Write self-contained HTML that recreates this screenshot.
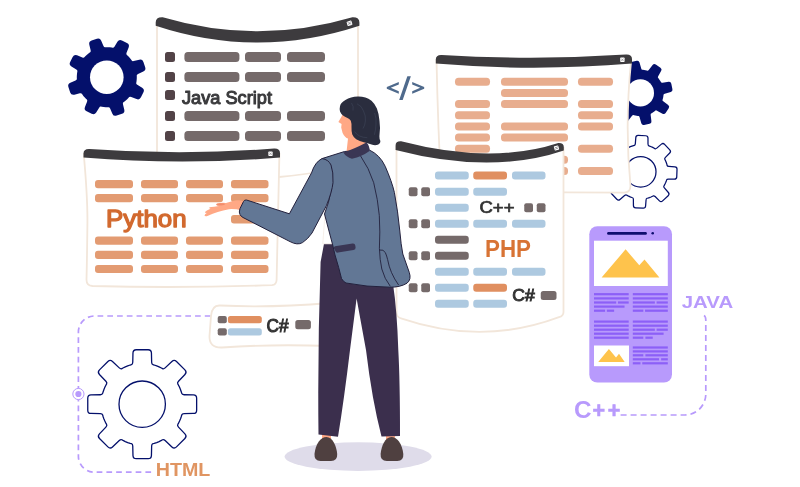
<!DOCTYPE html>
<html><head><meta charset="utf-8"><title>Programming languages</title>
<style>
html,body{margin:0;padding:0;background:#fff;}
body{width:800px;height:487px;overflow:hidden;font-family:"Liberation Sans",sans-serif;}
svg{display:block;will-change:transform}
svg text{font-family:"Liberation Sans",sans-serif;}
</style></head><body>
<svg width="800" height="487" viewBox="0 0 800 487">
<rect width="800" height="487" fill="#fff"/>
<path d="M136.20 83.11 Q136.01 84.05 137.29 84.84 L142.14 87.81 Q144.87 89.48 143.44 92.34 L140.94 97.35 Q139.52 100.22 136.54 99.04 L131.24 96.95 Q129.85 96.40 129.21 97.12 L128.57 97.84 L127.20 99.20 L125.74 100.46 L124.21 101.63 L123.41 102.16 Q122.61 102.70 122.96 104.16 L124.29 109.69 Q125.04 112.80 122.00 113.82 L116.69 115.59 Q113.66 116.61 112.38 113.67 L110.12 108.45 Q109.52 107.08 108.56 107.13 L107.60 107.19 L105.67 107.18 L103.75 107.04 L101.84 106.79 L100.89 106.60 Q99.95 106.41 99.16 107.69 L96.19 112.54 Q94.52 115.27 91.66 113.84 L86.65 111.34 Q83.78 109.92 84.96 106.94 L87.05 101.64 Q87.60 100.25 86.88 99.61 L86.16 98.97 L84.80 97.60 L83.54 96.14 L82.37 94.61 L81.84 93.81 Q81.30 93.01 79.84 93.36 L74.31 94.69 Q71.20 95.44 70.18 92.40 L68.41 87.09 Q67.39 84.06 70.33 82.78 L75.55 80.52 Q76.92 79.92 76.87 78.96 L76.81 78.00 L76.82 76.07 L76.96 74.15 L77.21 72.24 L77.40 71.29 Q77.59 70.35 76.31 69.56 L71.46 66.59 Q68.73 64.92 70.16 62.06 L72.66 57.05 Q74.08 54.18 77.06 55.36 L82.36 57.45 Q83.75 58.00 84.39 57.28 L85.03 56.56 L86.40 55.20 L87.86 53.94 L89.39 52.77 L90.19 52.24 Q90.99 51.70 90.64 50.24 L89.31 44.71 Q88.56 41.60 91.60 40.58 L96.91 38.81 Q99.94 37.79 101.22 40.73 L103.48 45.95 Q104.08 47.32 105.04 47.27 L106.00 47.21 L107.93 47.22 L109.85 47.36 L111.76 47.61 L112.71 47.80 Q113.65 47.99 114.44 46.71 L117.41 41.86 Q119.08 39.13 121.94 40.56 L126.95 43.06 Q129.82 44.48 128.64 47.46 L126.55 52.76 Q126.00 54.15 126.72 54.79 L127.44 55.43 L128.80 56.80 L130.06 58.26 L131.23 59.79 L131.76 60.59 Q132.30 61.39 133.76 61.04 L139.29 59.71 Q142.40 58.96 143.42 62.00 L145.19 67.31 Q146.21 70.34 143.27 71.62 L138.05 73.88 Q136.68 74.48 136.73 75.44 L136.79 76.40 L136.78 78.33 L136.64 80.25 L136.39 82.16 Z" fill="#04106b"/>
<circle cx="106.8" cy="77.2" r="16.8" fill="#fff"/>
<path d="M660.97 82.20 Q661.28 82.78 662.47 82.64 L668.69 81.87 Q670.87 81.60 671.31 83.75 L672.43 89.24 Q672.87 91.40 670.75 92.00 L664.73 93.72 Q663.57 94.05 663.52 94.71 L663.47 95.37 L663.29 96.68 L663.04 97.97 L662.71 99.25 L662.51 99.88 Q662.32 100.51 663.26 101.25 L668.20 105.10 Q669.94 106.45 668.72 108.29 L665.63 112.96 Q664.42 114.79 662.50 113.73 L657.02 110.68 Q655.97 110.10 655.47 110.53 L654.97 110.96 L653.92 111.76 L652.82 112.49 L651.69 113.17 L651.10 113.47 Q650.52 113.78 650.66 114.97 L651.43 121.19 Q651.70 123.37 649.55 123.81 L644.06 124.93 Q641.90 125.37 641.30 123.25 L639.58 117.23 Q639.25 116.07 638.59 116.02 L637.93 115.97 L636.62 115.79 L635.33 115.54 L634.05 115.21 L633.42 115.01 Q632.79 114.82 632.05 115.76 L628.20 120.70 Q626.85 122.44 625.01 121.22 L620.34 118.13 Q618.51 116.92 619.57 115.00 L622.62 109.52 Q623.20 108.47 622.77 107.97 L622.34 107.47 L621.54 106.42 L620.81 105.32 L620.13 104.19 L619.83 103.60 Q619.52 103.02 618.33 103.16 L612.11 103.93 Q609.93 104.20 609.49 102.05 L608.37 96.56 Q607.93 94.40 610.05 93.80 L616.07 92.08 Q617.23 91.75 617.28 91.09 L617.33 90.43 L617.51 89.12 L617.76 87.83 L618.09 86.55 L618.29 85.92 Q618.48 85.29 617.54 84.55 L612.60 80.70 Q610.86 79.35 612.08 77.51 L615.17 72.84 Q616.38 71.01 618.30 72.07 L623.78 75.12 Q624.83 75.70 625.33 75.27 L625.83 74.84 L626.88 74.04 L627.98 73.31 L629.11 72.63 L629.70 72.33 Q630.28 72.02 630.14 70.83 L629.37 64.61 Q629.10 62.43 631.25 61.99 L636.74 60.87 Q638.90 60.43 639.50 62.55 L641.22 68.57 Q641.55 69.73 642.21 69.78 L642.87 69.83 L644.18 70.01 L645.47 70.26 L646.75 70.59 L647.38 70.79 Q648.01 70.98 648.75 70.04 L652.60 65.10 Q653.95 63.36 655.79 64.58 L660.46 67.67 Q662.29 68.88 661.23 70.80 L658.18 76.28 Q657.60 77.33 658.03 77.83 L658.46 78.33 L659.26 79.38 L659.99 80.48 L660.67 81.61 Z" fill="#04106b"/>
<circle cx="640.4" cy="92.9" r="13.6" fill="#fff"/>
<path d="M667.15 165.51 Q667.34 166.33 668.84 166.44 L674.90 166.90 Q677.09 167.07 677.02 169.27 L676.75 176.86 Q676.67 179.06 674.47 179.07 L668.40 179.11 Q666.90 179.12 666.64 179.92 L666.39 180.73 L665.79 182.31 L665.09 183.84 L664.30 185.33 L663.85 186.05 Q663.41 186.77 664.39 187.91 L668.35 192.52 Q669.78 194.19 668.17 195.69 L662.61 200.87 Q661.00 202.37 659.44 200.83 L655.12 196.55 Q654.05 195.50 653.30 195.89 L652.55 196.28 L651.01 196.97 L649.43 197.56 L647.82 198.05 L646.99 198.25 Q646.17 198.44 646.06 199.94 L645.60 206.00 Q645.43 208.19 643.23 208.12 L635.64 207.85 Q633.44 207.77 633.43 205.57 L633.39 199.50 Q633.38 198.00 632.58 197.74 L631.77 197.49 L630.19 196.89 L628.66 196.19 L627.17 195.40 L626.45 194.95 Q625.73 194.51 624.59 195.49 L619.98 199.45 Q618.31 200.88 616.81 199.27 L611.63 193.71 Q610.13 192.10 611.67 190.54 L615.95 186.22 Q617.00 185.15 616.61 184.40 L616.22 183.65 L615.53 182.11 L614.94 180.53 L614.45 178.92 L614.25 178.09 Q614.06 177.27 612.56 177.16 L606.50 176.70 Q604.31 176.53 604.38 174.33 L604.65 166.74 Q604.73 164.54 606.93 164.53 L613.00 164.49 Q614.50 164.48 614.76 163.68 L615.01 162.87 L615.61 161.29 L616.31 159.76 L617.10 158.27 L617.55 157.55 Q617.99 156.83 617.01 155.69 L613.05 151.08 Q611.62 149.41 613.23 147.91 L618.79 142.73 Q620.40 141.23 621.96 142.77 L626.28 147.05 Q627.35 148.10 628.10 147.71 L628.85 147.32 L630.39 146.63 L631.97 146.04 L633.58 145.55 L634.41 145.35 Q635.23 145.16 635.34 143.66 L635.80 137.60 Q635.97 135.41 638.17 135.48 L645.76 135.75 Q647.96 135.83 647.97 138.03 L648.01 144.10 Q648.02 145.60 648.82 145.86 L649.63 146.11 L651.21 146.71 L652.74 147.41 L654.23 148.20 L654.95 148.65 Q655.67 149.09 656.81 148.11 L661.42 144.15 Q663.09 142.72 664.59 144.33 L669.77 149.89 Q671.27 151.50 669.73 153.06 L665.45 157.38 Q664.40 158.45 664.79 159.20 L665.18 159.95 L665.87 161.49 L666.46 163.07 L666.95 164.68 Z" fill="#fff" stroke="#04106b" stroke-width="1.25"/>
<circle cx="640.7" cy="171.8" r="15.3" fill="#fff" stroke="#04106b" stroke-width="1.25"/>
<path d="M181.74 393.44 Q182.08 394.70 184.08 394.75 L193.44 394.97 Q196.64 395.05 196.64 398.25 L196.64 410.15 Q196.64 413.35 193.44 413.43 L184.08 413.65 Q182.08 413.70 181.74 414.96 L181.40 416.21 L180.56 418.68 L179.56 421.09 L178.41 423.42 L177.77 424.55 Q177.12 425.68 178.50 427.13 L184.95 433.91 Q187.16 436.22 184.90 438.49 L176.49 446.90 Q174.22 449.16 171.91 446.95 L165.13 440.50 Q163.68 439.12 162.55 439.77 L161.42 440.41 L159.09 441.56 L156.68 442.56 L154.21 443.40 L152.96 443.74 Q151.70 444.08 151.65 446.08 L151.43 455.44 Q151.35 458.64 148.15 458.64 L136.25 458.64 Q133.05 458.64 132.97 455.44 L132.75 446.08 Q132.70 444.08 131.44 443.74 L130.19 443.40 L127.72 442.56 L125.31 441.56 L122.98 440.41 L121.85 439.77 Q120.72 439.12 119.27 440.50 L112.49 446.95 Q110.18 449.16 107.91 446.90 L99.50 438.49 Q97.24 436.22 99.45 433.91 L105.90 427.13 Q107.28 425.68 106.63 424.55 L105.99 423.42 L104.84 421.09 L103.84 418.68 L103.00 416.21 L102.66 414.96 Q102.32 413.70 100.32 413.65 L90.96 413.43 Q87.76 413.35 87.76 410.15 L87.76 398.25 Q87.76 395.05 90.96 394.97 L100.32 394.75 Q102.32 394.70 102.66 393.44 L103.00 392.19 L103.84 389.72 L104.84 387.31 L105.99 384.98 L106.63 383.85 Q107.28 382.72 105.90 381.27 L99.45 374.49 Q97.24 372.18 99.50 369.91 L107.91 361.50 Q110.18 359.24 112.49 361.45 L119.27 367.90 Q120.72 369.28 121.85 368.63 L122.98 367.99 L125.31 366.84 L127.72 365.84 L130.19 365.00 L131.44 364.66 Q132.70 364.32 132.75 362.32 L132.97 352.96 Q133.05 349.76 136.25 349.76 L148.15 349.76 Q151.35 349.76 151.43 352.96 L151.65 362.32 Q151.70 364.32 152.96 364.66 L154.21 365.00 L156.68 365.84 L159.09 366.84 L161.42 367.99 L162.55 368.63 Q163.68 369.28 165.13 367.90 L171.91 361.45 Q174.22 359.24 176.49 361.50 L184.90 369.91 Q187.16 372.18 184.95 374.49 L178.50 381.27 Q177.12 382.72 177.77 383.85 L178.41 384.98 L179.56 387.31 L180.56 389.72 L181.40 392.19 Z" fill="#fff" stroke="#04106b" stroke-width="1.3"/>
<circle cx="142.2" cy="404.2" r="23.2" fill="#fff" stroke="#04106b" stroke-width="1.3"/>
<path d="M210.5 316 H94.4 A16 16 0 0 0 78.4 332 V456.2 A16 16 0 0 0 94.4 472.2 H153.5" fill="none" stroke="#b89afc" stroke-width="1.7" stroke-dasharray="5.7 4.05"/>
<circle cx="78.4" cy="394" r="5.6" fill="#fff" stroke="#b89afc" stroke-width="1"/><circle cx="78.4" cy="394" r="3.1" fill="#b89afc"/>
<path d="M704 315.5 Q705.8 316.5 705.8 320 V394 A21 21 0 0 1 684.8 415 H619" fill="none" stroke="#b89afc" stroke-width="1.7" stroke-dasharray="6 4"/>
<path d="M157 24 V178 L279 177 Q330 172 358 164 V24 Q258 53 157 24 Z" fill="#fff" stroke="#f2e6da" stroke-width="1.8"/>
<path d="M155.7 25.8 L155.7 22.45 Q155.7 16.90 162.7 17.2 Q257.55 45.20 352.4 17.2 Q359.4 16.90 359.4 22.45 L359.4 25.8 Q257.55 59.40 155.7 25.8 Z" fill="#3d3b3e"/>
<g transform="rotate(-17 349.5 23.3)"><rect x="347.00" y="21.00" width="5" height="4.6" rx="0.7" fill="#fff"/><path d="M347.90 21.90 L351.10 24.70 M351.10 21.90 L347.90 24.70" stroke="#77757a" stroke-width="0.6" fill="none"/></g>
<rect x="165.00" y="52.00" width="10.00" height="10.00" rx="2.5" fill="#524347"/>
<rect x="165.00" y="72.00" width="10.00" height="10.00" rx="2.5" fill="#524347"/>
<rect x="165.00" y="90.00" width="10.00" height="10.00" rx="2.5" fill="#524347"/>
<rect x="165.00" y="111.00" width="10.00" height="10.00" rx="2.5" fill="#524347"/>
<rect x="165.00" y="131.00" width="10.00" height="10.00" rx="2.5" fill="#524347"/>
<rect x="184.40" y="52.00" width="55.00" height="10.00" rx="3.5" fill="#756a6a"/>
<rect x="245.00" y="52.00" width="36.00" height="10.00" rx="3.5" fill="#756a6a"/>
<rect x="287.00" y="52.00" width="38.00" height="10.00" rx="3.5" fill="#756a6a"/>
<rect x="184.40" y="72.00" width="55.00" height="10.00" rx="3.5" fill="#756a6a"/>
<rect x="245.00" y="72.00" width="36.00" height="10.00" rx="3.5" fill="#756a6a"/>
<rect x="287.00" y="72.00" width="38.00" height="10.00" rx="3.5" fill="#756a6a"/>
<rect x="184.40" y="111.00" width="55.00" height="10.00" rx="3.5" fill="#756a6a"/>
<rect x="245.00" y="111.00" width="36.00" height="10.00" rx="3.5" fill="#756a6a"/>
<rect x="287.00" y="111.00" width="38.00" height="10.00" rx="3.5" fill="#756a6a"/>
<rect x="184.40" y="131.00" width="55.00" height="10.00" rx="3.5" fill="#756a6a"/>
<rect x="245.00" y="131.00" width="36.00" height="10.00" rx="3.5" fill="#756a6a"/>
<rect x="287.00" y="131.00" width="38.00" height="10.00" rx="3.5" fill="#756a6a"/>
<text x="182" y="103.5" font-size="18" fill="#3a3a3c" stroke="#3a3a3c" stroke-width="1.05" stroke-linejoin="round" textLength="90" lengthAdjust="spacingAndGlyphs">Java Script</text>
<path d="M436.5 60 Q438 130 441.5 192 L624 192.6 Q630.3 192.6 630.5 186 Q624.5 125 631.2 60 Q534 66 436.5 60 Z" fill="#fff" stroke="#f2e6da" stroke-width="1.8"/>
<path d="M435.8 63.6 L435.8 59.50 Q435.8 54.70 441.8 55 Q533.90 60.60 626 54.6 Q632 54.30 632 59.10 L632 63.6 Q533.90 71.80 435.8 63.6 Z" fill="#3d3b3e"/>
<g transform="rotate(0 622.4 59.8)"><rect x="620.20" y="57.60" width="4.4" height="4.4" rx="0.7" fill="#fff"/><path d="M621.10 58.50 L623.70 61.10 M623.70 58.50 L621.10 61.10" stroke="#77757a" stroke-width="0.6" fill="none"/></g>
<rect x="455.00" y="77.80" width="35.00" height="8.00" rx="3.5" fill="#e8ad8e"/>
<rect x="455.00" y="100.10" width="35.00" height="8.00" rx="3.5" fill="#e8ad8e"/>
<rect x="455.00" y="111.25" width="35.00" height="8.00" rx="3.5" fill="#e8ad8e"/>
<rect x="455.00" y="122.40" width="35.00" height="8.00" rx="3.5" fill="#e8ad8e"/>
<rect x="455.00" y="133.55" width="35.00" height="8.00" rx="3.5" fill="#e8ad8e"/>
<rect x="455.00" y="144.70" width="35.00" height="8.00" rx="3.5" fill="#e8ad8e"/>
<rect x="501.00" y="77.80" width="67.00" height="8.00" rx="3.5" fill="#e8ad8e"/>
<rect x="501.00" y="88.95" width="67.00" height="8.00" rx="3.5" fill="#e8ad8e"/>
<rect x="501.00" y="100.10" width="67.00" height="8.00" rx="3.5" fill="#e8ad8e"/>
<rect x="501.00" y="122.40" width="67.00" height="8.00" rx="3.5" fill="#e8ad8e"/>
<rect x="501.00" y="133.55" width="67.00" height="8.00" rx="3.5" fill="#e8ad8e"/>
<rect x="501.00" y="155.85" width="67.00" height="8.00" rx="3.5" fill="#e8ad8e"/>
<rect x="501.00" y="167.00" width="67.00" height="8.00" rx="3.5" fill="#e8ad8e"/>
<rect x="578.00" y="77.80" width="35.00" height="8.00" rx="3.5" fill="#e8ad8e"/>
<rect x="578.00" y="100.10" width="35.00" height="8.00" rx="3.5" fill="#e8ad8e"/>
<rect x="578.00" y="111.25" width="35.00" height="8.00" rx="3.5" fill="#e8ad8e"/>
<rect x="578.00" y="122.40" width="35.00" height="8.00" rx="3.5" fill="#e8ad8e"/>
<rect x="578.00" y="144.70" width="35.00" height="8.00" rx="3.5" fill="#e8ad8e"/>
<rect x="578.00" y="167.00" width="35.00" height="8.00" rx="3.5" fill="#e8ad8e"/>
<path d="M396.5 147 V313 Q397 317.2 401 318.3 Q482 346 559 317.2 Q563.5 316 563.5 312 V148 Q482 170 396.5 147 Z" fill="#fff" stroke="#f2e6da" stroke-width="1.8"/>
<path d="M395.6 150 L395.6 145.32 Q395.6 140.90 401.1 141.2 Q491.70 164.75 558.3 142.9 Q563.8 142.60 563.8 147.03 L563.8 150.5 Q491.70 174.95 395.6 150 Z" fill="#3d3b3e"/>
<g transform="rotate(-16 556.5 148)"><rect x="554.20" y="145.80" width="4.6" height="4.4" rx="0.7" fill="#fff"/><path d="M555.10 146.70 L557.90 149.30 M557.90 146.70 L555.10 149.30" stroke="#77757a" stroke-width="0.6" fill="none"/></g>
<rect x="435.00" y="171.60" width="33.75" height="8.00" rx="3" fill="#adc9e0"/>
<rect x="473.25" y="171.60" width="33.75" height="8.00" rx="3" fill="#e08f60"/>
<rect x="512.00" y="171.60" width="33.50" height="8.00" rx="3" fill="#adc9e0"/>
<rect x="408.75" y="187.13" width="8.75" height="9.00" rx="2" fill="#756a6a"/>
<rect x="421.25" y="187.13" width="8.75" height="9.00" rx="2" fill="#756a6a"/>
<rect x="435.00" y="187.63" width="33.75" height="8.00" rx="3" fill="#adc9e0"/>
<rect x="473.25" y="187.63" width="33.75" height="8.00" rx="3" fill="#adc9e0"/>
<rect x="435.00" y="203.66" width="33.75" height="8.00" rx="3" fill="#adc9e0"/>
<rect x="524.25" y="203.16" width="8.75" height="9.00" rx="2" fill="#756a6a"/>
<rect x="536.75" y="203.16" width="8.75" height="9.00" rx="2" fill="#756a6a"/>
<rect x="408.75" y="219.19" width="8.75" height="9.00" rx="2" fill="#756a6a"/>
<rect x="421.25" y="219.19" width="8.75" height="9.00" rx="2" fill="#756a6a"/>
<rect x="435.00" y="219.69" width="33.75" height="8.00" rx="3" fill="#adc9e0"/>
<rect x="473.25" y="219.69" width="33.75" height="8.00" rx="3" fill="#adc9e0"/>
<rect x="512.00" y="219.69" width="33.50" height="8.00" rx="3" fill="#adc9e0"/>
<rect x="435.00" y="235.72" width="33.75" height="8.00" rx="3" fill="#756a6a"/>
<rect x="408.75" y="251.25" width="8.75" height="9.00" rx="2" fill="#756a6a"/>
<rect x="421.25" y="251.25" width="8.75" height="9.00" rx="2" fill="#756a6a"/>
<rect x="435.00" y="251.75" width="33.75" height="8.00" rx="3" fill="#756a6a"/>
<rect x="435.00" y="267.78" width="33.75" height="8.00" rx="3" fill="#adc9e0"/>
<rect x="473.25" y="267.78" width="33.75" height="8.00" rx="3" fill="#adc9e0"/>
<rect x="512.00" y="267.78" width="33.50" height="8.00" rx="3" fill="#adc9e0"/>
<rect x="408.75" y="283.31" width="8.75" height="9.00" rx="2" fill="#756a6a"/>
<rect x="421.25" y="283.31" width="8.75" height="9.00" rx="2" fill="#756a6a"/>
<rect x="435.00" y="283.81" width="33.75" height="8.00" rx="3" fill="#adc9e0"/>
<rect x="473.25" y="283.81" width="33.75" height="8.00" rx="3" fill="#e08f60"/>
<rect x="435.00" y="299.84" width="33.75" height="8.00" rx="3" fill="#adc9e0"/>
<rect x="473.25" y="299.84" width="33.75" height="8.00" rx="3" fill="#adc9e0"/>
<rect x="540.75" y="291.00" width="15.75" height="9.00" rx="2.5" fill="#756a6a"/>
<text x="479.5" y="212.5" font-size="17" fill="#333" stroke="#333" stroke-width="0.7" textLength="35" lengthAdjust="spacingAndGlyphs">C++</text>
<text x="485" y="257" font-size="23" font-weight="bold" fill="#d87334" textLength="46" lengthAdjust="spacingAndGlyphs">PHP</text>
<text x="512.3" y="300.5" font-size="16" fill="#333" stroke="#333" stroke-width="0.9" textLength="22.4" lengthAdjust="spacingAndGlyphs">C#</text>
<path d="M84 157 Q87.8 200 87.4 225 Q87 260 86.5 279.5 Q86.4 285.6 92.5 286 Q180 288.3 272 285.2 Q276.4 284.8 276.6 280 Q278.2 220 279.4 154 Q182 160 84 154 Z" fill="#fff" stroke="#f2e6da" stroke-width="1.8"/>
<path d="M83.5 157.5 L83.5 153.40 Q83.5 148.60 89.5 148.9 Q181.75 155.70 274 148.5 Q280 148.20 280 153.00 L280 157.6 Q181.75 165.65 83.5 157.5 Z" fill="#3d3b3e"/>
<g transform="rotate(0 270.5 153.75)"><rect x="268.35" y="151.60" width="4.3" height="4.3" rx="0.7" fill="#fff"/><path d="M269.25 152.50 L271.75 155.00 M271.75 152.50 L269.25 155.00" stroke="#77757a" stroke-width="0.6" fill="none"/></g>
<rect x="95.00" y="180.10" width="38.00" height="8.10" rx="3" fill="#e39b72"/>
<rect x="141.00" y="180.10" width="37.00" height="8.10" rx="3" fill="#e39b72"/>
<rect x="186.00" y="180.10" width="37.00" height="8.10" rx="3" fill="#e39b72"/>
<rect x="231.00" y="180.10" width="37.50" height="8.10" rx="3" fill="#e39b72"/>
<rect x="95.00" y="194.10" width="38.00" height="8.10" rx="3" fill="#e39b72"/>
<rect x="141.00" y="194.10" width="37.00" height="8.10" rx="3" fill="#e39b72"/>
<rect x="186.00" y="194.10" width="37.00" height="8.10" rx="3" fill="#e39b72"/>
<rect x="231.00" y="194.10" width="37.50" height="8.10" rx="3" fill="#e39b72"/>
<rect x="95.00" y="236.60" width="38.00" height="8.10" rx="3" fill="#e39b72"/>
<rect x="141.00" y="236.60" width="37.00" height="8.10" rx="3" fill="#e39b72"/>
<rect x="186.00" y="236.60" width="37.00" height="8.10" rx="3" fill="#e39b72"/>
<rect x="231.00" y="236.60" width="37.50" height="8.10" rx="3" fill="#e39b72"/>
<rect x="95.00" y="250.80" width="38.00" height="8.10" rx="3" fill="#e39b72"/>
<rect x="141.00" y="250.80" width="37.00" height="8.10" rx="3" fill="#e39b72"/>
<rect x="186.00" y="250.80" width="37.00" height="8.10" rx="3" fill="#e39b72"/>
<rect x="231.00" y="250.80" width="37.50" height="8.10" rx="3" fill="#e39b72"/>
<rect x="95.00" y="265.00" width="38.00" height="8.10" rx="3" fill="#e39b72"/>
<rect x="141.00" y="265.00" width="37.00" height="8.10" rx="3" fill="#e39b72"/>
<rect x="186.00" y="265.00" width="37.00" height="8.10" rx="3" fill="#e39b72"/>
<rect x="231.00" y="265.00" width="37.50" height="8.10" rx="3" fill="#e39b72"/>
<rect x="231.00" y="215.00" width="37.50" height="8.50" rx="3" fill="#e39b72"/>
<text x="106.1" y="226.7" font-size="23.4" fill="#d2692e" stroke="#d2692e" stroke-width="1.3" stroke-linejoin="round" textLength="80.5" lengthAdjust="spacingAndGlyphs">Python</text>
<path d="M220 305.5 Q270 308 330 303 V346 Q270 344 222 347.5 Q209 348 209.5 336 L211 316 Q212 305 220 305.5 Z" fill="#fff" stroke="#f2e6da" stroke-width="1.8"/>
<rect x="217.70" y="316.00" width="9.10" height="7.30" rx="2" fill="#756a6a"/>
<rect x="217.70" y="328.30" width="9.10" height="7.30" rx="2" fill="#756a6a"/>
<rect x="227.90" y="316.00" width="33.90" height="7.30" rx="2.5" fill="#e08f60"/>
<rect x="227.90" y="328.30" width="33.90" height="7.30" rx="2.5" fill="#adc9e0"/>
<rect x="295.30" y="320.00" width="15.60" height="9.20" rx="2.5" fill="#756a6a"/>
<text x="266.5" y="331.5" font-size="18" fill="#333" stroke="#333" stroke-width="1" textLength="22" lengthAdjust="spacingAndGlyphs">C#</text>
<text x="155.7" y="476" font-size="18" font-weight="bold" fill="#e09562" textLength="54.6" lengthAdjust="spacingAndGlyphs">HTML</text>
<text x="681.8" y="307.8" font-size="17.3" font-weight="bold" fill="#b89afc" textLength="51.3" lengthAdjust="spacingAndGlyphs">JAVA</text>
<text x="574" y="418.4" font-size="24.3" font-weight="bold" fill="#b89afc">C</text><text y="418.0" font-size="21.5" font-weight="bold" fill="#b89afc" stroke="#b89afc" stroke-width="0.6"><tspan x="592.6">+</tspan><tspan x="607.8">+</tspan></text>
<path d="M398.8 82.1 L386.8 87 V88.7 L398.8 93.8 V91.3 L390.8 87.85 L398.8 84.6 Z M412.2 82.1 L424.2 87 V88.7 L412.2 93.8 V91.3 L420.2 87.85 L412.2 84.6 Z M407.35 76.3 H410.86 L402.7 99.9 H399.2 Z" fill="#4f6a8c"/>
<rect x="589.30" y="226.20" width="82.70" height="156.40" rx="8" fill="#b89afc"/>
<path d="M608.5 233.4 H645.5" stroke="#0d0d6e" stroke-width="2.8" stroke-linecap="round"/>
<circle cx="652.7" cy="233.3" r="1.3" fill="#0d0d6e"/>
<rect x="594" y="240.7" width="73.8" height="45.3" fill="#fff"/>
<path d="M601.6 277.6 L625.6 249.3 L639.3 265.3 L644.5 259.5 L659.4 277.6 Z" fill="#fec34c"/>
<rect x="594.00" y="293.10" width="34.70" height="2.2" fill="#8c5ff7"/>
<rect x="594.00" y="297.30" width="34.70" height="2.2" fill="#8c5ff7"/>
<rect x="594.00" y="301.40" width="22.21" height="2.2" fill="#8c5ff7"/>
<rect x="617.94" y="301.40" width="10.76" height="2.2" fill="#8c5ff7"/>
<rect x="594.00" y="305.50" width="30.54" height="2.2" fill="#8c5ff7"/>
<rect x="594.00" y="309.60" width="11.10" height="2.2" fill="#8c5ff7"/>
<rect x="606.84" y="309.60" width="7.29" height="2.2" fill="#8c5ff7"/>
<rect x="632.80" y="293.10" width="35.00" height="2.2" fill="#8c5ff7"/>
<rect x="632.80" y="297.30" width="35.00" height="2.2" fill="#8c5ff7"/>
<rect x="632.80" y="301.40" width="22.05" height="2.2" fill="#8c5ff7"/>
<rect x="656.60" y="301.40" width="11.20" height="2.2" fill="#8c5ff7"/>
<rect x="632.80" y="305.50" width="35.00" height="2.2" fill="#8c5ff7"/>
<rect x="632.80" y="309.60" width="10.50" height="2.2" fill="#8c5ff7"/>
<rect x="645.05" y="309.60" width="22.75" height="2.2" fill="#8c5ff7"/>
<rect x="594.00" y="320.50" width="34.70" height="2.2" fill="#8c5ff7"/>
<rect x="594.00" y="324.60" width="34.70" height="2.2" fill="#8c5ff7"/>
<rect x="594.00" y="328.60" width="34.70" height="2.2" fill="#8c5ff7"/>
<rect x="594.00" y="332.60" width="34.70" height="2.2" fill="#8c5ff7"/>
<rect x="594.00" y="336.60" width="34.70" height="2.2" fill="#8c5ff7"/>
<rect x="632.80" y="320.50" width="35.00" height="2.2" fill="#8c5ff7"/>
<rect x="632.80" y="324.60" width="35.00" height="2.2" fill="#8c5ff7"/>
<rect x="632.80" y="328.60" width="22.05" height="2.2" fill="#8c5ff7"/>
<rect x="656.60" y="328.60" width="11.20" height="2.2" fill="#8c5ff7"/>
<rect x="632.80" y="332.60" width="30.80" height="2.2" fill="#8c5ff7"/>
<rect x="632.80" y="336.60" width="10.50" height="2.2" fill="#8c5ff7"/>
<rect x="645.40" y="336.60" width="7.35" height="2.2" fill="#8c5ff7"/>
<rect x="594" y="345.5" width="35" height="20.7" fill="#fff"/>
<path d="M598.2 361.9 L608.9 349 L616 357.4 L619 353.8 L624.7 361.9 Z" fill="#fec34c"/>
<rect x="632.80" y="346.40" width="35.00" height="2.2" fill="#8c5ff7"/>
<rect x="632.80" y="350.30" width="35.00" height="2.2" fill="#8c5ff7"/>
<rect x="632.80" y="354.20" width="10.50" height="2.2" fill="#8c5ff7"/>
<rect x="645.40" y="354.20" width="22.40" height="2.2" fill="#8c5ff7"/>
<rect x="632.80" y="358.20" width="26.25" height="2.2" fill="#8c5ff7"/>
<rect x="661.15" y="358.20" width="6.65" height="2.2" fill="#8c5ff7"/>
<rect x="632.80" y="362.20" width="7.70" height="2.2" fill="#8c5ff7"/>
<rect x="642.25" y="362.20" width="25.55" height="2.2" fill="#8c5ff7"/>
<ellipse cx="358.1" cy="456.6" rx="73.5" ry="14.3" fill="#dfdcea"/>
<rect x="322" y="432" width="9" height="8" fill="#ffa885"/><rect x="386" y="432" width="9" height="8" fill="#ffa885"/>
<path d="M314.5 454 C315.5 444 320.5 437 326.5 437 C332.5 437 336.5 446 337.2 454 Q337.6 461 331 461 H320.5 Q314 461 314.5 454 Z" fill="#4f4040"/>
<path d="M403.3 454 C402.3 444 397.3 437 391.3 437 C385.3 437 381.3 446 380.6 454 Q380.2 461 386.8 461 H397.3 Q403.8 461 403.3 454 Z" fill="#4f4040"/>
<path d="M324 243.8 L320.6 262 Q317.5 350 318.5 434.5 L338 436.8 Q344 400 350 350 L356.6 298.6 L366 350 Q372 400 381.5 436.5 L400 436 Q400 380 398.3 350 Q397 310 393 284 L390 243.8 Z" fill="#3b2f4d"/>
<path d="M326 200 L322.8 243.8 L334 243.8 L333 200 Z" fill="#fff" stroke="#f4ebe3" stroke-width="0.8"/>
<path d="M343 114 L338.4 122.1 L341.6 124 L341.2 127.5 L342.6 133 Q345 138 348 138.4 L346.5 152 L366 146 L366 112 Z" fill="#ffa885"/>
<path d="M322 158.6 L344.5 151.5 L369.2 149.9 Q380 155 385.2 166.3 Q392 182 394.4 192.5 Q398 212 399.8 231 Q401 245 402.8 254 L409.3 272.5 Q411.6 279.5 407 283.2 Q400 287.4 390 287.2 Q366 287 346 283 Q343 281.5 341.5 278.5 Q339 268 335 255 L332.7 245 L324.5 214 Q334 190 331.4 168 Z" fill="#627795" stroke="#23213d" stroke-width="1"/>
<path d="M360.6 156 Q369 168 373.7 182.7 Q378 200 379.3 215.5 Q380.3 232 379.4 248.3 Q379.8 260 381.8 269 Q384.5 279 390.3 286.3" fill="none" stroke="#23213d" stroke-width="0.9"/>
<path d="M379.4 250 Q383.5 249.3 385.3 252.5 Q386.8 256 387.6 259.5 Q390 273 398.6 285" fill="none" stroke="#23213d" stroke-width="0.9"/>
<path d="M335 246.3 L352.5 243.6 Q355 243.3 355.3 245.6 L355.6 247.5 Q355.8 249.6 353.5 250 L338 252.6 Q336 253 335.4 251 L334 248.5 Q333.5 246.6 335 246.3 Z" fill="#3a3654"/>
<path d="M343.3 152.5 Q354 149 366.4 142.5 Q370 146 369.5 151 Q362 156.5 352 158.8 Q346 157 343.3 152.5 Z" fill="#3a3654"/>
<path d="M244 201.2 Q238 199.6 233 200.9 L226 203 Q221 202.5 217 203.6 Q215.3 204.8 218 205.6 L221 205.8 Q213 207 209.5 207.2 Q208.5 208.4 210.5 208.8 Q206 210.5 205 212 Q205 213.3 207 212.8 Q204.5 214.5 204.5 215.8 Q205.5 216.8 208 215.7 Q217 211.5 229 209.2 Q235 208.8 242 210.5 Z" fill="#ffa885"/>
<ellipse cx="220.6" cy="204.4" rx="4.4" ry="1.2" fill="#f28d6c" transform="rotate(-4 220.6 204.4)"/>
<path d="M322 158.6 Q315 162 311.5 172.9 L289.4 213.8 L246.5 200 Q244.5 199.6 243.5 201.5 L240 208.6 Q238.6 212.5 240 214.5 Q240.8 216.3 243 217.5 L290 241.6 Q297.5 245.6 302.5 242.6 Q308 239 312 233 L326.4 205.7 Q332 192 333 182.7 Q333.5 172 331 165 Q328.5 159.5 322 158.6 Z" fill="#627795" stroke="#23213d" stroke-width="1"/>
<path d="M358.5 96.5 Q351 96.3 345.4 100 Q340.5 103 340 106.2 Q339.3 109 340 111.5 Q341 114 343 115.4 Q345 116.8 347 117.7 Q349.6 118.8 350.8 120.8 Q351.8 124 351.5 126.9 Q351.3 131 352.3 134.6 Q353.5 137.5 356.2 139.2 Q359.5 141.3 363.8 142.3 Q367.5 143.3 371.5 144.6 Q375 145.8 377.7 144.8 Q380.8 143.5 380.3 140.8 Q379.3 138.5 379.4 136.2 Q380.6 128 379.5 120.8 Q379 114 376.9 108.5 Q375 104 371.5 100.8 Q368.5 98.2 365.4 97.4 Q362 96.5 358.5 96.5 Z" fill="#2a2d3e"/>
<path d="M351.5 103 Q354 106.5 353 110.5 M357 103.8 Q362 106 363.5 111 Q366 116 365.4 121 Q365 125.5 363 128.5 M374.6 113 Q376.6 118 376 124 Q375.8 130 374.4 134.8 M354.6 131.5 Q356.5 134.5 359.5 136 Q363 137.6 367.3 137.7" fill="none" stroke="#434a5e" stroke-width="0.5"/>
</svg>
</body></html>
